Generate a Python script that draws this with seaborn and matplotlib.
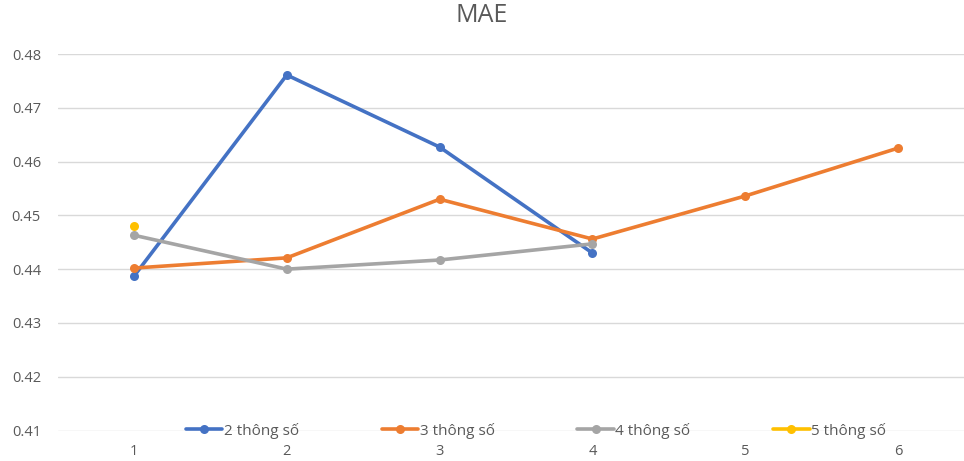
import matplotlib
matplotlib.use("Agg")
import matplotlib.pyplot as plt
import seaborn as sns
import numpy as np
import pandas as pd

categories = [1, 2, 3, 4, 5, 6]
series_names = ["2 thông số", "3 thông số", "4 thông số", "5 thông số"]
s2 = [0.4387, 0.4761, 0.4627, 0.4430, np.nan, np.nan]
s3 = [0.4402, 0.4421, 0.4530, 0.4456, 0.4536, 0.4625]
s4 = [0.4463, 0.4400, 0.4417, 0.4447, np.nan, np.nan]
s5 = [0.4480, np.nan, np.nan, np.nan, np.nan, np.nan]
colors = ["#4472C4", "#ED7D31", "#A5A5A5", "#FFC000"]
yticks = [0.41, 0.42, 0.43, 0.44, 0.45, 0.46, 0.47, 0.48]

sns.set_theme(style="white")
plt.rcParams['font.family'] = ['Open Sans', 'DejaVu Sans']

W, H = 964, 461
fig = plt.figure(figsize=(W / 100, H / 100), dpi=100)
left, right = 57.6, 974.4
top, bottom = 54.0, 430.5
ax = fig.add_axes([left / W, (H - bottom) / H, (right - left) / W, (bottom - top) / H])

for name, vals, c in zip(series_names, [s2, s3, s4, s5], colors):
    df = pd.DataFrame({"x": categories, "y": vals})
    sns.lineplot(data=df, x="x", y="y", ax=ax, color=c, linewidth=2.6,
                 marker="o", markersize=6.5, markeredgewidth=0, label=name,
                 sort=False, clip_on=False, zorder=3)

ax.set_xlim(0.5, 6.5)
ax.set_ylim(0.41, 0.48)
ax.set_yticks(yticks)
ax.set_yticklabels([f"{v:.2f}" for v in yticks])
ax.set_xticks(categories)
ax.set_xticklabels([str(c) for c in categories])
ax.grid(axis="y", color="#D9D9D9", linewidth=1)
ax.grid(axis="x", visible=False)
for s in ax.spines.values():
    s.set_visible(False)
ax.tick_params(axis="both", length=0, colors="#595959", labelsize=10.5)
ax.tick_params(axis="y", pad=12)
ax.tick_params(axis="x", pad=10)
ax.set_xlabel("")
ax.set_ylabel("")

fig.text(482 / W, 1 - 16 / H, "MAE", ha="center", va="center", fontsize=18, color="#595959")

leg = ax.legend(loc="center", bbox_to_anchor=((536 - left) / (right - left), 0.0),
                ncol=4, frameon=False, fontsize=11, handlelength=2.4,
                columnspacing=5.4, handletextpad=0.1, borderaxespad=0)
for t in leg.get_texts():
    t.set_color("#595959")

fig.savefig("out.png", dpi=100)
